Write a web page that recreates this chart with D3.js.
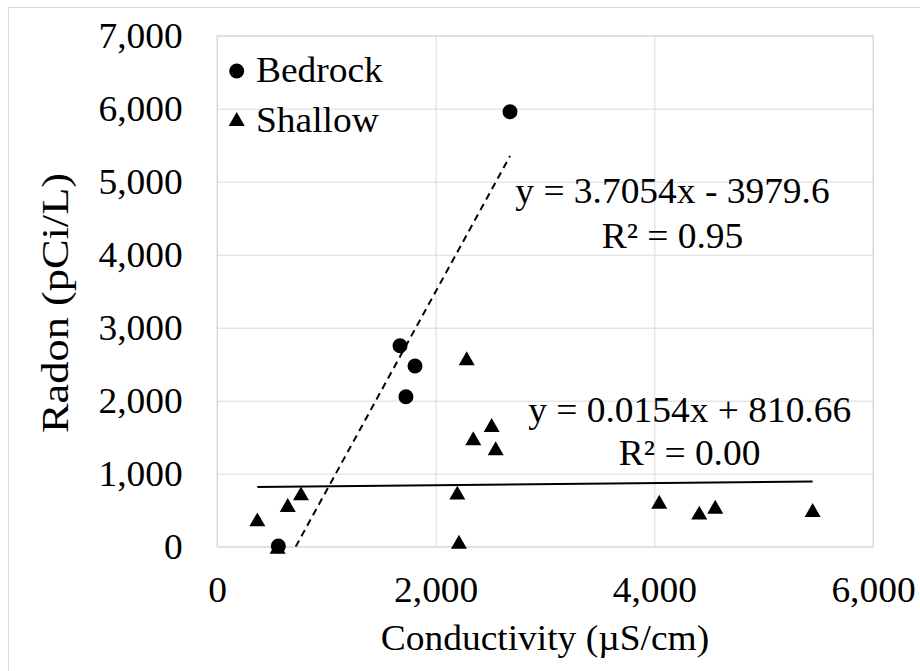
<!DOCTYPE html>
<html>
<head>
<meta charset="utf-8">
<script src="https://cdn.jsdelivr.net/npm/d3@7"></script>
<style>
    body { margin: 0; background: #fff; }
</style>
</head>
<body>
<div id="chart"></div>
<script>
// data
const bedrockX = [561, 1674, 1811, 1728, 2680];
const bedrockY = [10, 2753, 2475, 2055, 5959];
const shallowX = [555, 369, 647, 768, 2198, 2213, 2284, 2344, 2512, 2549, 4045, 4411, 4557, 5448];
const shallowY = [0, 375, 571, 731, 740, 68, 2581, 1485, 1667, 1348, 616, 466, 548, 503];

// trendlines as drawn: [slope, intercept]
const bedrockFit = [2.73, -1965];
const shallowFit = [0.0154, 810.66];

const xTicks = [0, 2000, 4000, 6000];
const yTicks = [0, 1000, 2000, 3000, 4000, 5000, 6000, 7000];
const seriesNames = ['Bedrock', 'Shallow'];
const bedrockEq = ['y = 3.7054x - 3979.6', 'R² = 0.95'];
const shallowEq = ['y = 0.0154x + 810.66', 'R² = 0.00'];

// dimensions
const W = 920;
const H = 671;
const MARGIN_TOP = 35.7;
const MARGIN_LEFT = 217;
const MARGIN_RIGHT = 47;
const MARGIN_BOTTOM = 124.3;
const width = W - MARGIN_LEFT - MARGIN_RIGHT;
const height = H - MARGIN_TOP - MARGIN_BOTTOM;
const FONT = 35;
const FAMILY = "'Liberation Serif', 'Times New Roman', serif";
const SX = 1.07; // text is a bit wider than the font

const GRID = '#d9d9d9';
const TRI_SIZE = 111;

const xScale = d3.scaleLinear().domain([0, 6000]).range([0, width]);
const yScale = d3.scaleLinear().domain([0, 7000]).range([height, 0]);

const $svg = d3.select('#chart').append('svg')
    .attr('width', W)
    .attr('height', H);

// outer chart frame
$svg.append('rect')
    .attr('x', 8.5).attr('y', 7.5)
    .attr('width', 1000).attr('height', 1000)
    .attr('fill', 'none').attr('stroke', GRID);

const $g = $svg.append('g')
    .attr('transform', `translate(${MARGIN_LEFT}, ${MARGIN_TOP})`);

$g.append('clipPath').attr('id', 'plot-clip')
    .append('rect').attr('width', width).attr('height', height);

function putText(sel, str, x, y, anchor, size, sx) {
    return sel.append('text')
        .attr('transform', `translate(${x}, ${y}) scale(${sx}, 1)`)
        .attr('text-anchor', anchor)
        .style('font-family', FAMILY)
        .style('font-size', `${size}px`)
        .attr('fill', '#000')
        .text(str);
}

// axes + gridlines
const yPad = 34.3;
const yAxis = d3.axisLeft(yScale)
    .tickValues(yTicks)
    .tickSize(-width)
    .tickPadding(0)
    .tickFormat(d3.format(','));
const $yAxis = $g.append('g').attr('class', 'y axis').call(yAxis);
$yAxis.select('.domain').remove();
$yAxis.selectAll('line').attr('stroke', GRID);
$yAxis.selectAll('text')
    .attr('x', -yPad / SX)
    .attr('dy', '0.33em')
    .attr('transform', `scale(${SX}, 1)`)
    .style('font-family', FAMILY)
    .style('font-size', `${FONT}px`);

const xAxis = d3.axisBottom(xScale)
    .tickValues(xTicks)
    .tickSize(-height)
    .tickPadding(0)
    .tickFormat(d3.format(','));
const $xAxis = $g.append('g').attr('class', 'x axis')
    .attr('transform', `translate(0, ${height})`)
    .call(xAxis);
$xAxis.select('.domain').remove();
$xAxis.selectAll('line').attr('stroke', GRID);
$xAxis.selectAll('text')
    .attr('y', 55)
    .attr('dy', 0)
    .attr('transform', `scale(${SX}, 1)`)
    .style('font-family', FAMILY)
    .style('font-size', `${FONT}px`);

// plot area border
$g.append('rect')
    .attr('x', 0).attr('y', 0)
    .attr('width', width).attr('height', height)
    .attr('fill', 'none').attr('stroke', GRID);

// trendlines
const $vis = $g.append('g').attr('class', 'g-vis');
const line = d3.line().x(d => xScale(d[0])).y(d => yScale(d[1]));

function fitLine(xs, fit) {
    const ext = d3.extent(xs);
    return ext.map(x => [x, fit[0] * x + fit[1]]);
}

$vis.append('path')
    .datum(fitLine(bedrockX, bedrockFit))
    .attr('d', line)
    .attr('clip-path', 'url(#plot-clip)')
    .attr('fill', 'none')
    .attr('stroke', '#000')
    .attr('stroke-width', 2)
    .attr('stroke-dasharray', '7,5');

$vis.append('path')
    .datum(fitLine(shallowX, shallowFit))
    .attr('d', line)
    .attr('fill', 'none')
    .attr('stroke', '#000')
    .attr('stroke-width', 2);

// markers
const tri = d3.symbol(d3.symbolTriangle, TRI_SIZE);
const triOff = Math.sqrt(TRI_SIZE / (Math.sqrt(3) * 3)) / 2; // centre the box, not the centroid

$vis.selectAll('.bedrock')
    .data(d3.zip(bedrockX, bedrockY))
    .enter().append('circle')
    .attr('class', 'bedrock')
    .attr('cx', d => xScale(d[0]))
    .attr('cy', d => yScale(d[1]))
    .attr('r', 7.5)
    .attr('fill', '#000');

$vis.selectAll('.shallow')
    .data(d3.zip(shallowX, shallowY))
    .enter().append('path')
    .attr('class', 'shallow')
    .attr('d', tri)
    .attr('transform', d => `translate(${xScale(d[0])}, ${yScale(d[1]) + triOff})`)
    .attr('fill', '#000');

// legend
const $legend = $g.append('g').attr('transform', 'translate(19.7, 35.3)');
$legend.append('circle').attr('cx', 0).attr('cy', 0).attr('r', 7.5).attr('fill', '#000');
$legend.append('path').attr('d', tri)
    .attr('transform', `translate(0, ${48 + triOff})`).attr('fill', '#000');
seriesNames.forEach((name, i) => {
    putText($legend, name, 19.3, 11 + i * 50, 'start', FONT, SX);
});

// equations
bedrockEq.forEach((s, i) => {
    putText($g, s, xScale(4166), yScale(4708) + i * 45, 'middle', FONT, SX);
});
shallowEq.forEach((s, i) => {
    putText($g, s, xScale(4323), yScale(1712) + i * 43.3, 'middle', FONT, SX);
});

// axis titles
putText($svg, 'Conductivity (µS/cm)', MARGIN_LEFT + width / 2, 650, 'middle', FONT, SX);
putText($svg, 'Radon (pCi/L)', 0, 0, 'middle', 37, 1)
    .attr('transform', 'translate(68, 303) rotate(-90) scale(1.2, 1)');
</script>
</body>
</html>
